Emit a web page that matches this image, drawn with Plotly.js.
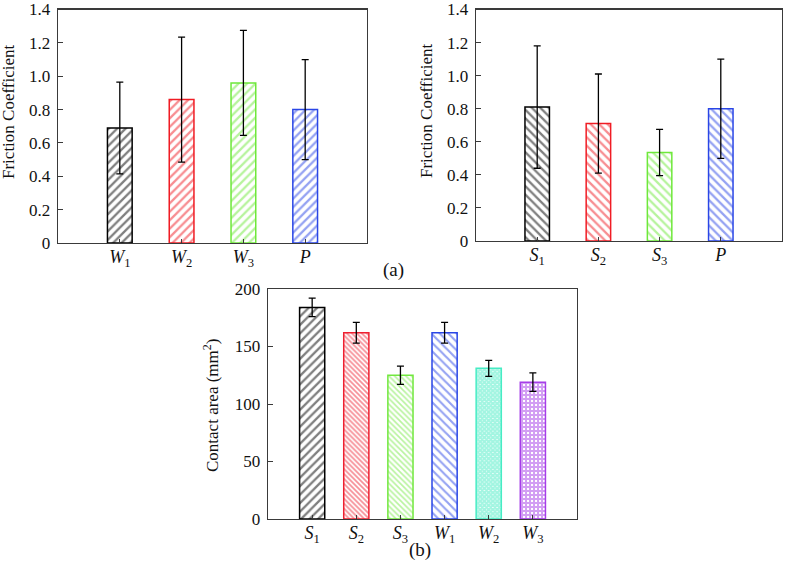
<!DOCTYPE html>
<html>
<head>
<meta charset="utf-8">
<script src="https://cdn.plot.ly/plotly-3.0.1.min.js"></script>
<style>html,body{margin:0;padding:0;background:#fff;}#chart{width:786px;height:566px;}</style>
</head>
<body>
<div id="chart"></div>
<script>
// ---- data ----
var catsA = ['<i>W</i><sub>1</sub>', '<i>W</i><sub>2</sub>', '<i>W</i><sub>3</sub>', '<i>P</i>'];
var frictionA = [0.69, 0.86, 0.96, 0.80];
var frictionErrA = [0.275, 0.375, 0.315, 0.30];

var catsB = ['<i>S</i><sub>1</sub>', '<i>S</i><sub>2</sub>', '<i>S</i><sub>3</sub>', '<i>P</i>'];
var frictionB = [0.81, 0.71, 0.535, 0.80];
var frictionErrB = [0.37, 0.30, 0.14, 0.30];

var catsC = ['<i>S</i><sub>1</sub>', '<i>S</i><sub>2</sub>', '<i>S</i><sub>3</sub>', '<i>W</i><sub>1</sub>', '<i>W</i><sub>2</sub>', '<i>W</i><sub>3</sub>'];
var contactArea = [184, 162, 125, 162, 131, 119];
var contactErr = [8, 9, 8, 9, 7, 8];

var frictionTickVals = [0, 0.2, 0.4, 0.6, 0.8, 1.0, 1.2, 1.4];
var frictionTickText = ['0', '0.2', '0.4', '0.6', '0.8', '1.0', '1.2', '1.4'];
var areaTickVals = [0, 50, 100, 150, 200];
var areaTickText = ['0', '50', '100', '150', '200'];

var titleFriction = 'Friction Coefficient';
var titleArea = 'Contact area (mm<sup>2</sup>)';

// ---- styles ----
var colA = ['#000000', '#f01c24', '#6ee83a', '#2a46e6'];
var colB = ['#000000', '#f01c24', '#6ee83a', '#2a46e6'];
var colC = ['#000000', '#ee2030', '#72e83e', '#2a46e6', '#46ecc4', '#a63ee8'];
var shapesC = ['/', '\\', '\\', '\\', 'x', '+'];
var sizesC = [6, 3.5, 4, 6, 3, 4];
var solC = [0.38, 0.5, 0.42, 0.36, 0.9, 0.75];

var FONT = '"Liberation Serif", serif';
var AX = '#3a3a3a';

function errbar(arr) {
  return {type: 'data', array: arr, visible: true, color: '#000', thickness: 1.3, width: 3.5};
}

var traces = [
  {
    type: 'bar', x: catsA, y: frictionA, width: 0.4, xaxis: 'x', yaxis: 'y',
    marker: {color: 'white', line: {color: colA, width: 1.5},
      pattern: {shape: '/', fgcolor: colA, bgcolor: 'white', size: 6, solidity: 0.38, fillmode: 'overlay'}},
    error_y: errbar(frictionErrA), hoverinfo: 'y'
  },
  {
    type: 'bar', x: catsB, y: frictionB, width: 0.4, xaxis: 'x2', yaxis: 'y2',
    marker: {color: 'white', line: {color: colB, width: 1.5},
      pattern: {shape: '\\', fgcolor: colB, bgcolor: 'white', size: 6, solidity: 0.38, fillmode: 'overlay'}},
    error_y: errbar(frictionErrB), hoverinfo: 'y'
  },
  {
    type: 'bar', x: catsC, y: contactArea, width: 0.57, xaxis: 'x3', yaxis: 'y3',
    marker: {color: 'white', line: {color: colC, width: 1.5},
      pattern: {shape: shapesC, fgcolor: colC, bgcolor: 'white', size: sizesC, solidity: solC, fillmode: 'overlay'}},
    error_y: errbar(contactErr), hoverinfo: 'y'
  }
];

function xax(domain, anchor, range) {
  return {
    domain: domain, anchor: anchor, type: 'category', range: range,
    showline: true, linecolor: AX, linewidth: 1.3, mirror: true,
    ticks: 'inside', ticklen: 4, tickcolor: AX, tickwidth: 1,
    tickfont: {family: FONT, size: 18, color: '#111'},
    ticklabelstandoff: -3,
    showgrid: false, zeroline: false, fixedrange: true
  };
}
function yax(domain, anchor, range, vals, text) {
  return {
    domain: domain, anchor: anchor, range: range,
    tickvals: vals, ticktext: text,
    showline: true, linecolor: AX, linewidth: 1.3, mirror: true,
    ticks: 'inside', ticklen: 5, tickcolor: AX, tickwidth: 1,
    tickfont: {family: FONT, size: 17, color: '#111'},
    ticklabeloverflow: 'allow', ticklabelstandoff: 3,
    showgrid: false, zeroline: false, fixedrange: true
  };
}

function ann(text, x, y, size, angle) {
  return {text: text, x: x / 786, y: 1 - y / 566, xref: 'paper', yref: 'paper', showarrow: false,
    xanchor: 'center', yanchor: 'middle', textangle: angle || 0,
    font: {family: FONT, size: size, color: '#111'}};
}

var layout = {
  width: 786, height: 566,
  margin: {l: 0, r: 0, t: 0, b: 0, pad: 0},
  paper_bgcolor: 'white', plot_bgcolor: 'white',
  showlegend: false,
  font: {family: FONT, color: '#111'},
  xaxis: xax([0.0738, 0.4669], 'y', [-1, 4]),
  yaxis: yax([0.5707, 0.9832], 'x', [0, 1.4001], frictionTickVals, frictionTickText),
  xaxis2: xax([0.6056, 0.9949], 'y2', [-1, 4]),
  yaxis2: yax([0.5742, 0.9832], 'x2', [0, 1.4001], frictionTickVals, frictionTickText),
  xaxis3: xax([0.3410, 0.7341], 'y3', [-1, 6]),
  yaxis3: yax([0.0830, 0.4894], 'x3', [0, 200.01], areaTickVals, areaTickText),
  annotations: [
    ann(titleFriction, 9, 112, 17, -90),
    ann(titleFriction, 426, 111, 17, -90),
    ann(titleArea, 211, 406, 17, -90),
    ann('(a)', 393, 270, 19),
    ann('(b)', 420, 550, 19)
  ]
};

Plotly.newPlot('chart', traces, layout, {displayModeBar: false, staticPlot: true});
</script>
</body>
</html>
